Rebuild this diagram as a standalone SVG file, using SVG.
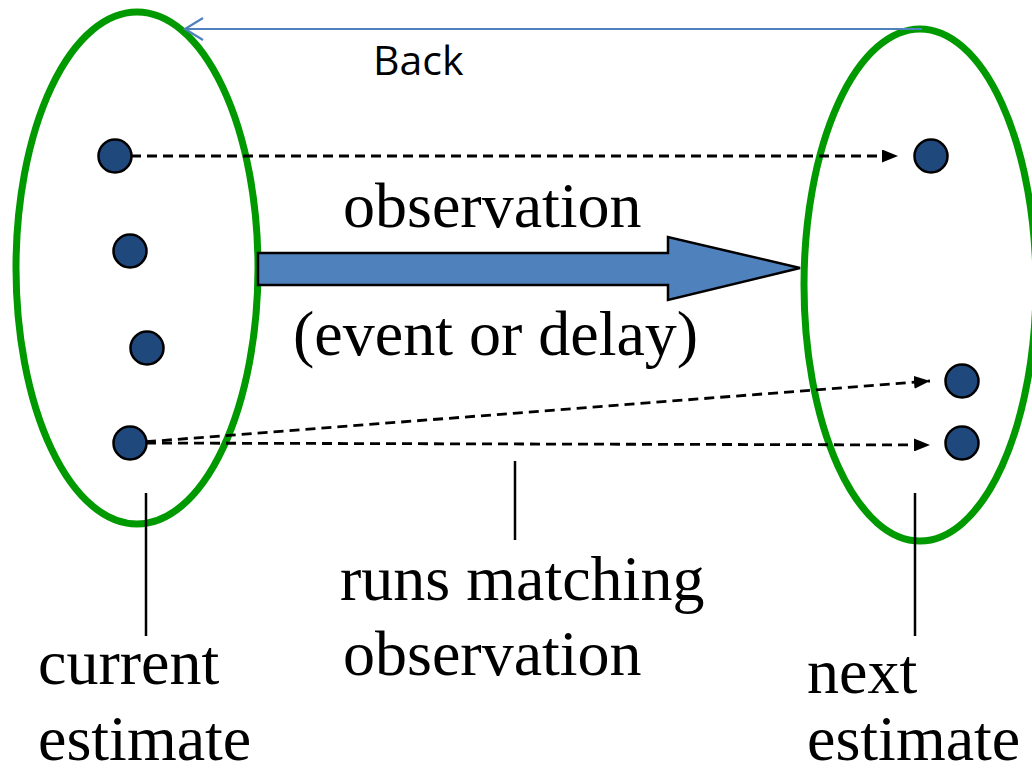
<svg xmlns="http://www.w3.org/2000/svg" width="1032" height="773" viewBox="0 0 1032 773">
  <style>
    .set { fill: none; stroke: #009900; stroke-width: 7; }
    .dot { fill: #1F497D; stroke: #000; stroke-width: 2.5; }
    .run { fill: none; stroke: #000; stroke-width: 2.8; stroke-dasharray: 10 6; }
    .lead { stroke: #000; stroke-width: 2.5; }
    .serif { font-family: "Liberation Serif", "Times New Roman", serif; font-size: 64px; fill: #000; }
    .sans { font-family: "Open Sans", "Liberation Sans", sans-serif; font-size: 41px; fill: #000; }
  </style>
  <defs>
    <marker id="tri" markerWidth="16" markerHeight="13" refX="16" refY="6.5" orient="auto" markerUnits="userSpaceOnUse">
      <path d="M0,0 L16,6.5 L0,13 Z" fill="#000"/>
    </marker>
  </defs>

  <!-- estimate sets -->
  <g id="current-set">
    <ellipse class="set" cx="137" cy="268" rx="121" ry="256"/>
  </g>
  <g id="next-set">
    <ellipse class="set" cx="920" cy="285" rx="116" ry="256"/>
  </g>

  <!-- connectors -->
  <g id="connectors">
    <g id="back" fill="none" stroke="#4F81BD" stroke-width="2.2">
      <line x1="922" y1="29" x2="186" y2="29"/>
      <path d="M203,18 L185,29 L203,40"/>
    </g>
    <line class="run" x1="115" y1="156" x2="898" y2="156" marker-end="url(#tri)"/>
    <line class="run" x1="130" y1="443" x2="930" y2="381" marker-end="url(#tri)"/>
    <line class="run" x1="130" y1="443" x2="930" y2="445" marker-end="url(#tri)"/>
    <path d="M258,253 L668,253 L668,237 L800,268 L668,300 L668,285 L258,285 Z" fill="#4F81BD" stroke="#000" stroke-width="2.5" stroke-linejoin="miter"/>
    <line class="lead" x1="146" y1="493" x2="146" y2="636"/>
    <line class="lead" x1="515" y1="461" x2="515" y2="540"/>
    <line class="lead" x1="915" y1="493" x2="915" y2="636"/>
  </g>

  <!-- runs in the current estimate -->
  <g id="run-a"><circle class="dot" cx="115" cy="156" r="16.5"/></g>
  <g id="run-b"><circle class="dot" cx="130" cy="251" r="16.5"/></g>
  <g id="run-c"><circle class="dot" cx="147" cy="348" r="16.5"/></g>
  <g id="run-d"><circle class="dot" cx="130" cy="443" r="16.5"/></g>

  <!-- runs in the next estimate -->
  <g id="next-a"><circle class="dot" cx="931" cy="156" r="16.5"/></g>
  <g id="next-b"><circle class="dot" cx="962" cy="381" r="16.5"/></g>
  <g id="next-c"><circle class="dot" cx="962" cy="443" r="16.5"/></g>

  <!-- labels -->
  <g id="labels">
    <text class="sans" x="373" y="75">Back</text>
    <text class="serif" x="343" y="227">observation</text>
    <text class="serif" x="293" y="355">(event or delay)</text>
    <text class="serif" x="340" y="600">runs matching</text>
    <text class="serif" x="343" y="675">observation</text>
    <text class="serif" x="38" y="684">current</text>
    <text class="serif" x="38" y="760">estimate</text>
    <text class="serif" x="807" y="693">next</text>
    <text class="serif" x="807" y="760">estimate</text>
  </g>
</svg>
